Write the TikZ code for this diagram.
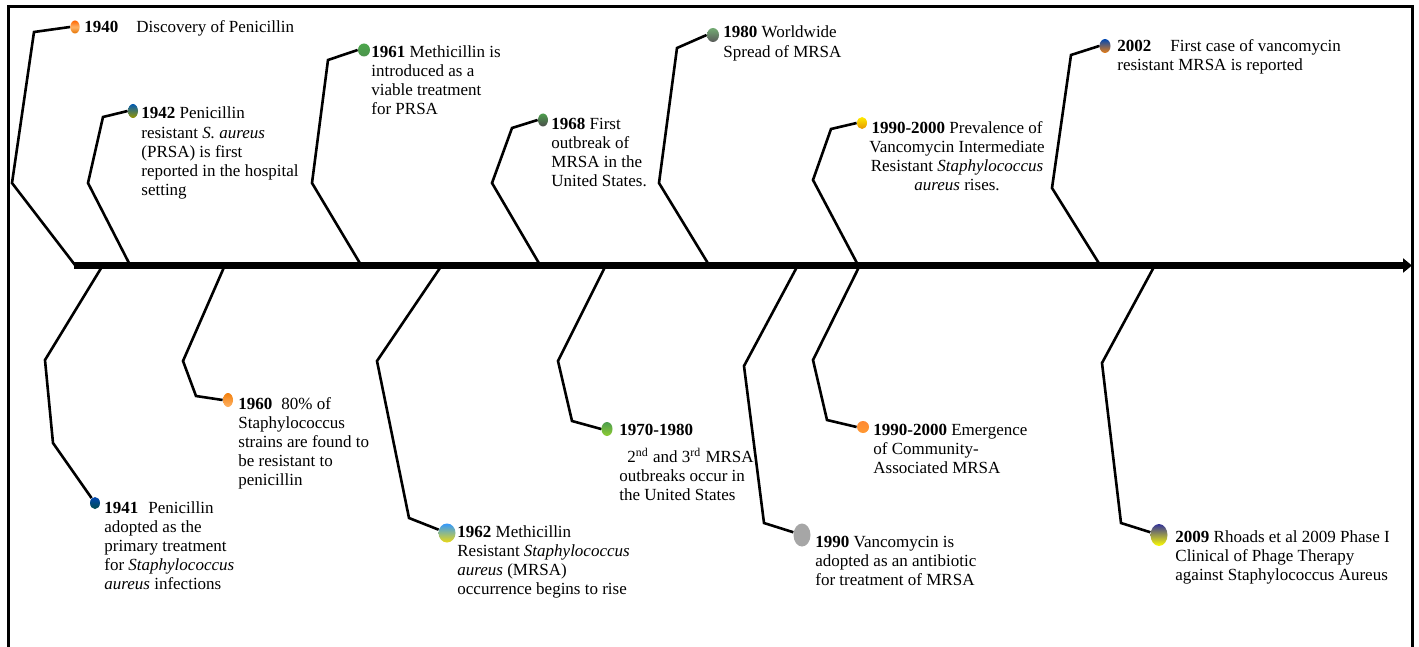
\documentclass[tikz,border=0pt]{standalone}
\usepackage{fontspec}
\setmainfont{Liberation Serif}
\usetikzlibrary{shapes.geometric,arrows.meta}
\begin{document}
\begin{tikzpicture}[x=0.5pt,y=-0.5pt,
  conn/.style={line width=1.3pt, line join=miter},
  dot/.style={ellipse, inner sep=0pt, draw=none},
  lbl/.style={anchor=base west, align=left, inner sep=0pt, font=\fontsize{8.5pt}{9.6pt}\selectfont},
  clbl/.style={anchor=base, align=center, inner sep=0pt, font=\fontsize{8.5pt}{9.6pt}\selectfont},
  axisline/.style={line width=3.4pt, -{Triangle[length=4.5pt,width=7pt]}},
  frameline/.style={line width=1.5pt}
  ]
\useasboundingbox (0,0) rectangle (1419,647);
\clip (0,0) rectangle (1419,647);
\fill[white] (0,0) rectangle (1419,647);

% frame
\coordinate (fbl) at (8,660);
\coordinate (ftl) at (8,7);
\coordinate (ftr) at (1412,7);
\coordinate (fbr) at (1412,660);
\draw[frameline] (fbl) -- (ftl) -- (ftr) -- (fbr);

% dots
\node[dot, minimum width=4.7pt, minimum height=6.5pt, top color=orange!80!red, bottom color=orange!90!black, middle color=orange!60] (d1940) at (75,27) {};
\node[dot, minimum width=5pt, minimum height=7pt, top color=blue!50!cyan!70!black, middle color=green!45!black!80, bottom color=yellow!60!black] (d1942) at (133,111) {};
\node[dot, minimum width=6pt, minimum height=6.5pt, top color=green!50!black!70, middle color=brown!90!red, bottom color=green!40!black!70] (d1961) at (364,50) {};
\node[dot, minimum width=5pt, minimum height=6.5pt, top color=green!45!black!70, bottom color=black!70] (d1968) at (543,120) {};
\node[dot, minimum width=6pt, minimum height=7pt, top color=green!40!black!55, bottom color=black!65] (d1980) at (713,35) {};
\node[dot, minimum width=5pt, minimum height=6pt, top color=yellow!85!orange, bottom color=orange!70!yellow!90!black] (d1990t) at (862,123) {};
\node[dot, minimum width=5.5pt, minimum height=7pt, top color=blue!60!cyan!70!black, middle color=blue!50!black!70, bottom color=orange!70!brown] (d2002) at (1105,46) {};
\node[dot, minimum width=5pt, minimum height=6pt, top color=blue!60!cyan!70!black, bottom color=teal!60!black] (d1941) at (95,503) {};
\node[dot, minimum width=5pt, minimum height=7pt, top color=orange!80!brown, middle color=blue!30!black!70, bottom color=orange!60] (d1960) at (228,400) {};
\node[dot, minimum width=8.5pt, minimum height=9.5pt, top color=blue!50!cyan!80, middle color=cyan!30!gray!80, bottom color=yellow!70!brown] (d1962) at (447,533) {};
\node[dot, minimum width=5.5pt, minimum height=7pt, top color=green!45!black!70, middle color=orange!80!brown, bottom color=green!40!yellow!60!gray] (d1970) at (607,429) {};
\node[dot, minimum width=6pt, minimum height=6pt, top color=orange!85!red!80, bottom color=orange!80] (d1990b) at (863,427) {};
\node[dot, minimum width=8.5pt, minimum height=11.5pt, fill=black!35] (d1990) at (802,535) {};
\node[dot, minimum width=8.5pt, minimum height=11pt, top color=blue!50!black!80, middle color=brown!70!black, bottom color=yellow] (d2009) at (1159,535) {};

% axis attachment points
\coordinate (a1940) at (75,265);
\coordinate (a1942) at (130,265);
\coordinate (a1961) at (361,265);
\coordinate (a1968) at (540,265);
\coordinate (a1980) at (709,265);
\coordinate (a1990t) at (858,265);
\coordinate (a2002) at (1100,265);
\coordinate (a1941) at (103,265);
\coordinate (a1960) at (225,265);
\coordinate (a1962) at (442,265);
\coordinate (a1970) at (606,265);
\coordinate (a1990) at (798,265);
\coordinate (a1990b) at (860,265);
\coordinate (a2009) at (1155,265);

% connectors (top)
\draw[conn] (a1940) -- (12,183) -- (34,32) -- (d1940.west);
\draw[conn] (a1942) -- (88,183) -- (103,117) -- (d1942.west);
\draw[conn] (a1961) -- (312,183) -- (328,60) -- (d1961.west);
\draw[conn] (a1968) -- (492,183) -- (512,128) -- (d1968.west);
\draw[conn] (a1980) -- (659,183) -- (677,48) -- (d1980.west);
\draw[conn] (a1990t) -- (813,180) -- (831,129) -- (d1990t.west);
\draw[conn] (a2002) -- (1052,188) -- (1071,55) -- (d2002.west);
% connectors (bottom)
\draw[conn] (a1941) -- (45,360) -- (53,443) -- (d1941);
\draw[conn] (a1960) -- (183,361) -- (196,396) -- (d1960.west);
\draw[conn] (a1962) -- (377,361) -- (409,518) -- (d1962);
\draw[conn] (a1970) -- (558,361) -- (572,421) -- (d1970.west);
\draw[conn] (a1990) -- (744,366) -- (764,523) -- (d1990);
\draw[conn] (a1990b) -- (813,360) -- (827,420) -- (d1990b.west);
\draw[conn] (a2009) -- (1102,363) -- (1121,523) -- (d2009);

% axis
\coordinate (axL) at (74,265.5);
\coordinate (axR) at (1412,265.5);
\draw[axisline] (axL) -- (axR);

% labels (anchored at the baseline of their last line)
\node[lbl] (t1940) at (84,33) {\textbf{1940}\hspace{9pt}Discovery of Penicillin};
\node[lbl] (t1942) at (141,195.8) {\textbf{1942} Penicillin\\resistant \textit{S. aureus}\\(PRSA) is first\\reported in the hospital\\setting};
\node[lbl] (t1961) at (371,114.6) {\textbf{1961} Methicillin is\\introduced as a\\viable treatment\\for PRSA};
\node[lbl] (t1968) at (551,186.6) {\textbf{1968} First\\outbreak of\\MRSA in the\\United States.};
\node[lbl] (t1980) at (723,57.2) {\textbf{1980} Worldwide\\Spread of MRSA};
\node[clbl] (t1990t) at (957,190.6) {\textbf{1990-2000} Prevalence of\\Vancomycin Intermediate\\Resistant \textit{Staphylococcus}\\\textit{aureus} rises.};
\node[lbl] (t2002) at (1117,71) {\textbf{2002}\hspace{9.5pt}First case of vancomycin\\resistant MRSA is reported};
\node[lbl] (t1941) at (104,589.8) {\textbf{1941}\hspace{5pt}Penicillin\\adopted as the\\primary treatment\\for \textit{Staphylococcus}\\\textit{aureus} infections};
\node[lbl] (t1960) at (238,485.8) {\textbf{1960}\hspace{4.5pt}80\% of\\Staphylococcus\\strains are found to\\be resistant to\\penicillin};
\node[lbl] (t1962) at (457,594.6) {\textbf{1962} Methicillin\\Resistant \textit{Staphylococcus}\\\textit{aureus} (MRSA)\\occurrence begins to rise};
\node[lbl] (t1970) at (619,500.6) {\textbf{1970-1980}\\[4pt]\hspace{4pt}2\textsuperscript{nd} and 3\textsuperscript{rd} MRSA\\outbreaks occur in\\the United States};
\node[lbl] (t1990b) at (873,473.4) {\textbf{1990-2000} Emergence\\of Community-\\Associated MRSA};
\node[lbl] (t1990) at (815,585.4) {\textbf{1990} Vancomycin is\\adopted as an antibiotic\\for treatment of MRSA};
\node[lbl] (t2009) at (1175,580.4) {\textbf{2009} Rhoads et al 2009 Phase I\\Clinical of Phage Therapy\\against Staphylococcus Aureus};
\end{tikzpicture}
\end{document}
